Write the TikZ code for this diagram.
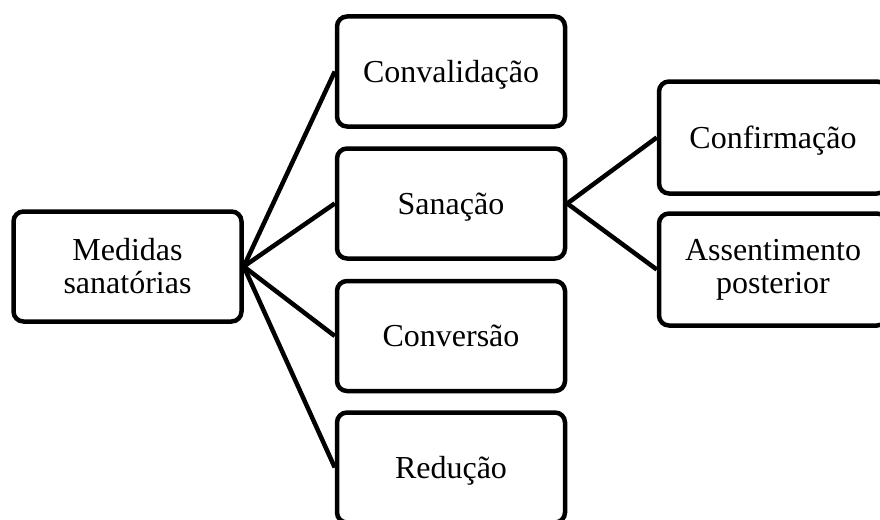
\documentclass[tikz,border=0pt]{standalone}
\usepackage{fontspec}
\setmainfont{Liberation Serif}
\begin{document}
\begin{tikzpicture}[x=1pt,y=-1pt,
	box/.style={draw, line width=4.5pt, rounded corners=10pt, align=center,
		minimum width=228pt, minimum height=110pt, inner sep=0pt,
		font=\fontsize{32}{33}\selectfont},
	oneline/.style={box, text height=25pt, text depth=4pt},
	link/.style={line width=4.5pt}]
	\useasboundingbox (0,0) rectangle (880,519);
	\clip (0,0) rectangle (880,519);
	% root
	\node[box] (med) at (127.5,266.5) {Medidas\\sanatórias};
	% middle column
	\node[oneline] (conv) at (451,71.5) {Convalidação};
	\node[oneline] (san) at (451,203.5) {Sanação};
	\node[oneline] (cnv) at (451,336) {Conversão};
	\node[oneline] (red) at (451,467.5) {Redução};
	% right column
	\node[oneline, minimum height=112pt] (conf) at (773,137.5) {Confirmação};
	\node[box, minimum height=112pt] (assen) at (773,269.5) {Assentimento\\posterior};
	% links
	\draw[link] (med.east)--(conv.west);
	\draw[link] (med.east)--(san.west);
	\draw[link] (med.east)--(cnv.west);
	\draw[link] (med.east)--(red.west);
	\draw[link] (san.east)--(conf.west);
	\draw[link] (san.east)--(assen.west);
\end{tikzpicture}
\end{document}
